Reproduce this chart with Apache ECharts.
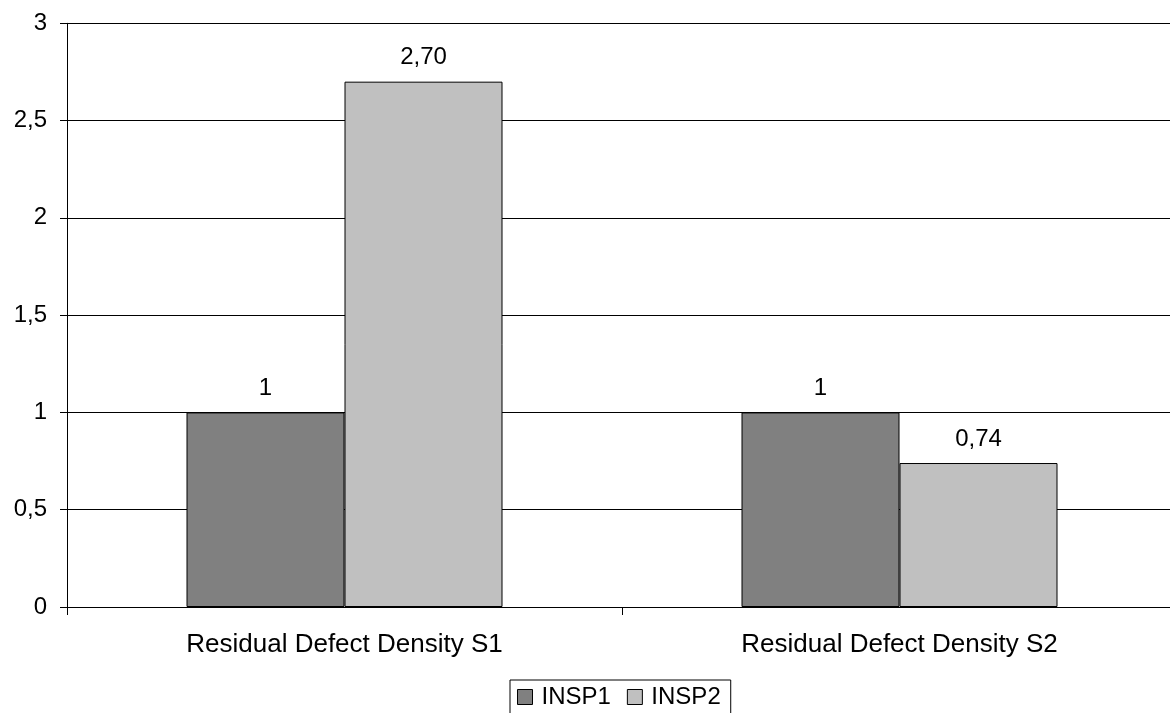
<!DOCTYPE html>
<html>
<head>
<meta charset="utf-8">
<script src="https://cdn.jsdelivr.net/npm/echarts@6/dist/echarts.min.js"></script>
<style>
html,body{margin:0;padding:0;background:#fff;}
#chart{width:1170px;height:713px;}
</style>
</head>
<body>
<div id="chart"></div>
<script>
var categories = ['Residual Defect Density S1', 'Residual Defect Density S2'];
var insp1 = [1, 1];
var insp2 = [2.70, 0.74];
var insp1Labels = ['1', '1'];
var insp2Labels = ['2,70', '0,74'];
var yTicks = ['0', '0,5', '1', '1,5', '2', '2,5', '3'];

var FONT = 'Liberation Sans, Arial, sans-serif';
var chart = echarts.init(document.getElementById('chart'));
chart.setOption({
  backgroundColor: '#fff',
  animation: false,
  textStyle: {fontFamily: FONT, color: '#000'},
  grid: {left: 67, top: 23.3, width: 1110, height: 583.7, containLabel: false, outerBoundsMode: 'none'},
  legend: {
    left: 510, top: 680,
    orient: 'horizontal',
    borderColor: '#000', borderWidth: 1,
    padding: [5, 10, 5, 7],
    itemWidth: 15, itemHeight: 15, itemGap: 16,
    icon: 'rect',
    itemStyle: {borderColor: '#000', borderWidth: 1},
    textStyle: {fontSize: 24, color: '#000', fontFamily: FONT, padding: [0, 0, 0, 4]},
    data: ['INSP1', 'INSP2']
  },
  xAxis: {
    type: 'category',
    data: categories,
    axisLine: {lineStyle: {color: '#000', width: 1}},
    axisTick: {show: true, length: 8, lineStyle: {color: '#000'}},
    axisLabel: {fontSize: 26, color: '#000', fontFamily: FONT, margin: 25},
    splitLine: {show: false}
  },
  yAxis: {
    type: 'value',
    min: 0, max: 3, interval: 0.5,
    axisLine: {show: true, lineStyle: {color: '#000', width: 1}},
    axisTick: {show: true, length: 7, lineStyle: {color: '#000'}},
    axisLabel: {
      fontSize: 24, color: '#000', fontFamily: FONT, margin: 20,
      formatter: function (v) { return yTicks[Math.round(v / 0.5)]; }
    },
    splitLine: {show: true, lineStyle: {color: '#000', width: 1}}
  },
  series: [
    {
      name: 'INSP1', type: 'bar', data: insp1,
      barWidth: 158, barGap: '0%',
      itemStyle: {color: '#808080', borderColor: '#000', borderWidth: 1},
      label: {
        show: true, position: 'top', distance: 12, fontSize: 24, color: '#000', fontFamily: FONT,
        formatter: function (p) { return insp1Labels[p.dataIndex]; }
      }
    },
    {
      name: 'INSP2', type: 'bar', data: insp2,
      barWidth: 158, barGap: '0%',
      itemStyle: {color: '#c0c0c0', borderColor: '#000', borderWidth: 1},
      label: {
        show: true, position: 'top', distance: 12, fontSize: 24, color: '#000', fontFamily: FONT,
        formatter: function (p) { return insp2Labels[p.dataIndex]; }
      }
    }
  ]
});
</script>
</body>
</html>
